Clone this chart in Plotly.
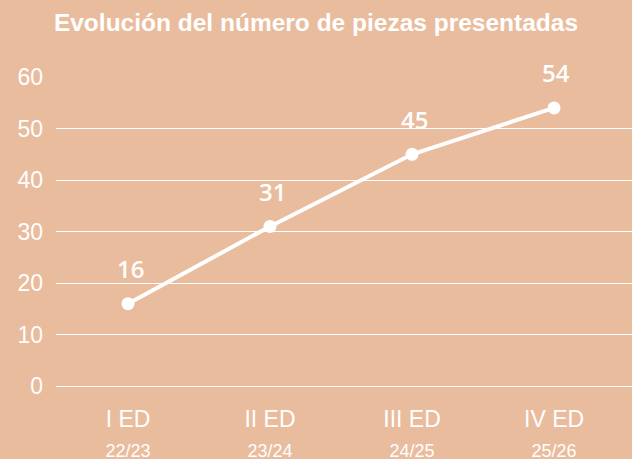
import plotly.graph_objects as go

editions = ["I ED", "II ED", "III ED", "IV ED"]
seasons = ["22/23", "23/24", "24/25", "25/26"]
pieces = [16, 31, 45, 54]
y_ticks = [0, 10, 20, 30, 40, 50, 60]

BG = "#E9BC9E"
x = list(range(len(editions)))
ticktext = [f"{e}<br><span style='font-size:18px'>{s}</span>" for e, s in zip(editions, seasons)]

fig = go.Figure()
fig.add_trace(go.Scatter(
    x=x, y=pieces, mode="lines+markers",
    line=dict(color="white", width=4),
    marker=dict(color="white", size=13),
    hoverinfo="skip", showlegend=False,
))
for xi, v in zip(x, pieces):
    fig.add_annotation(x=xi, y=v, text=str(v), showarrow=False, yshift=35, xshift=2,
                       font=dict(family="Open Sans", size=24, color="white", weight=600))

fig.update_layout(
    width=632, height=459,
    paper_bgcolor=BG, plot_bgcolor=BG,
    margin=dict(l=56, r=0, t=77, b=70),
    title=dict(text="<b>Evolución del número de piezas presentadas</b>", x=0.5, xanchor="center",
               y=1 - 22 / 459, yanchor="middle",
               font=dict(family="Liberation Sans", size=24.5, color="white")),
    xaxis=dict(range=[-0.507, 3.549], tickvals=x, ticktext=ticktext, showgrid=False,
               zeroline=False, showline=False, ticks="", ticklabelstandoff=14, automargin=False,
               tickfont=dict(family="Liberation Sans", size=23, color="white")),
    yaxis=dict(range=[-0.55, 60], tickvals=y_ticks, showgrid=True, gridcolor="white", gridwidth=1,
               zeroline=False, showline=False, ticks="", ticklabelstandoff=12, automargin=False,
               tickfont=dict(family="Liberation Sans", size=23, color="white")),
)
fig.write_html("out.html", config={"displayModeBar": False},
               post_script="document.body.style.margin='0';document.body.style.background='" + BG + "';")
